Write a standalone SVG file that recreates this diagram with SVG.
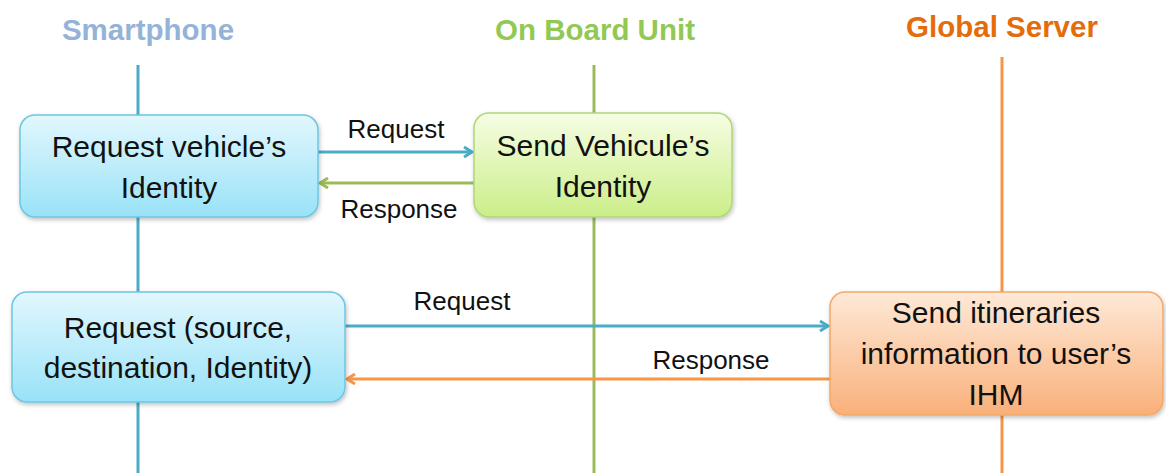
<svg xmlns="http://www.w3.org/2000/svg" width="1166" height="473" viewBox="0 0 1166 473">
<defs>
<style>
.title{font-family:"Liberation Sans",Arial,sans-serif;font-weight:bold;font-size:29.5px;text-anchor:middle}
.bt{font-family:"Liberation Sans",Arial,sans-serif;font-size:30px;text-anchor:middle;fill:#111}
.lbl{font-family:"Liberation Sans",Arial,sans-serif;font-size:26px;text-anchor:middle;fill:#111}
.life{stroke-width:3;fill:none}
.conn{stroke-width:3;fill:none}
</style>
<linearGradient id="gBlue" x1="0" y1="0" x2="0" y2="1"><stop offset="0" stop-color="#e2f7fd"/><stop offset="1" stop-color="#99e2f8"/></linearGradient>
<linearGradient id="gGreen" x1="0" y1="0" x2="0" y2="1"><stop offset="0" stop-color="#f6fde4"/><stop offset="1" stop-color="#cbee88"/></linearGradient>
<linearGradient id="gOrange" x1="0" y1="0" x2="0" y2="1"><stop offset="0" stop-color="#fee9d8"/><stop offset="1" stop-color="#f9b07a"/></linearGradient>
<filter id="sh" x="-10%" y="-10%" width="120%" height="130%"><feDropShadow dx="1" dy="2" stdDeviation="2" flood-color="#000" flood-opacity="0.25"/></filter>
<marker id="aBlue" markerWidth="12" markerHeight="12" refX="10" refY="6" orient="auto" markerUnits="userSpaceOnUse"><path d="M2,1 L10,6 L2,11" fill="none" stroke="#4bacc6" stroke-width="3"/></marker>
<marker id="aGreen" markerWidth="12" markerHeight="12" refX="10" refY="6" orient="auto" markerUnits="userSpaceOnUse"><path d="M2,1 L10,6 L2,11" fill="none" stroke="#9bbb59" stroke-width="3"/></marker>
<marker id="aOrange" markerWidth="12" markerHeight="12" refX="10" refY="6" orient="auto" markerUnits="userSpaceOnUse"><path d="M2,1 L10,6 L2,11" fill="none" stroke="#f79646" stroke-width="3"/></marker>
</defs>
<rect width="1166" height="473" fill="#fff"/>
<g id="lifelines">
<line class="life" x1="138" y1="65" x2="138" y2="473" stroke="#4bacc6"/>
<line class="life" x1="594" y1="65" x2="594" y2="473" stroke="#9bbb59"/>
<line class="life" x1="1002" y1="57" x2="1002" y2="473" stroke="#f79646"/>
</g>
<g id="titles">
<text class="title" x="148" y="40" fill="#95b3d7">Smartphone</text>
<text class="title" x="595" y="40" fill="#92c854">On Board Unit</text>
<text class="title" x="1002" y="37" fill="#e46c0a">Global Server</text>
</g>
<g id="connectors">
<line class="conn" x1="318" y1="152" x2="472" y2="152" stroke="#4bacc6" marker-end="url(#aBlue)"/>
<line class="conn" x1="474" y1="183" x2="320" y2="183" stroke="#9bbb59" marker-end="url(#aGreen)"/>
<line class="conn" x1="345" y1="326" x2="828" y2="326" stroke="#4bacc6" marker-end="url(#aBlue)"/>
<line class="conn" x1="830" y1="379" x2="347" y2="379" stroke="#f79646" marker-end="url(#aOrange)"/>
<text class="lbl" x="396" y="138">Request</text>
<text class="lbl" x="399" y="218">Response</text>
<text class="lbl" x="462" y="310">Request</text>
<text class="lbl" x="711" y="369">Response</text>
</g>
<g id="n1">
<rect x="20" y="115" width="298" height="102" rx="15" fill="url(#gBlue)" stroke="#6cc6e2" stroke-width="1.5" filter="url(#sh)"/>
<text class="bt" x="169" y="157">Request vehicle’s</text>
<text class="bt" x="169" y="198">Identity</text>
</g>
<g id="n2">
<rect x="474" y="113" width="258" height="104" rx="15" fill="url(#gGreen)" stroke="#afd67a" stroke-width="1.5" filter="url(#sh)"/>
<text class="bt" x="603" y="156">Send Vehicule’s</text>
<text class="bt" x="603" y="197">Identity</text>
</g>
<g id="n3">
<rect x="12" y="292" width="333" height="110" rx="15" fill="url(#gBlue)" stroke="#6cc6e2" stroke-width="1.5" filter="url(#sh)"/>
<text class="bt" x="178" y="338">Request (source,</text>
<text class="bt" x="178" y="378">destination, Identity)</text>
</g>
<g id="n4">
<rect x="830" y="292" width="333" height="123" rx="15" fill="url(#gOrange)" stroke="#f5a865" stroke-width="1.5" filter="url(#sh)"/>
<text class="bt" x="996" y="323">Send itineraries</text>
<text class="bt" x="996" y="364">information to user’s</text>
<text class="bt" x="996" y="405">IHM</text>
</g>
</svg>
